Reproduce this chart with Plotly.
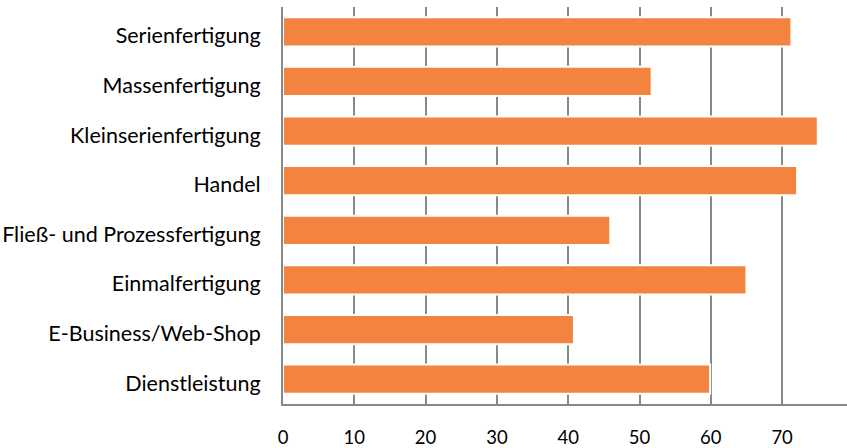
import plotly.graph_objects as go

categories = [
    "Serienfertigung",
    "Massenfertigung",
    "Kleinserienfertigung",
    "Handel",
    "Fließ- und Prozessfertigung",
    "Einmalfertigung",
    "E-Business/Web-Shop",
    "Dienstleistung",
]
values = [71.3, 51.7, 75.0, 72.1, 45.9, 65.0, 40.8, 59.9]
x_ticks = [0, 10, 20, 30, 40, 50, 60, 70]

fig = go.Figure(
    go.Bar(
        y=categories,
        x=values,
        orientation="h",
        marker=dict(color="#F2843F", line=dict(color="white", width=2)),
    )
)

fig.update_layout(
    width=847,
    height=448,
    margin=dict(l=283, r=0, t=7, b=41),
    plot_bgcolor="white",
    paper_bgcolor="white",
    bargap=0.41,
    showlegend=False,
    font=dict(family="Lato", size=18, color="#000000"),
)

fig.update_xaxes(
    range=[0, 79.1],
    tickvals=x_ticks,
    ticktext=[str(t) for t in x_ticks],
    showgrid=True,
    gridcolor="#888888",
    gridwidth=2,
    zeroline=False,
    showline=True,
    linecolor="#888888",
    linewidth=2,
    ticks="outside",
    ticklen=16,
    tickcolor="rgba(0,0,0,0)",
    tickfont=dict(size=18.5),
)
fig.update_yaxes(
    autorange="reversed",
    showgrid=False,
    zeroline=False,
    showline=True,
    linecolor="#888888",
    linewidth=2,
    ticks="outside",
    ticklen=16,
    tickcolor="rgba(0,0,0,0)",
    tickfont=dict(size=21.5),
    ticklabelshift=-4,
)

fig.write_html("out.html")
